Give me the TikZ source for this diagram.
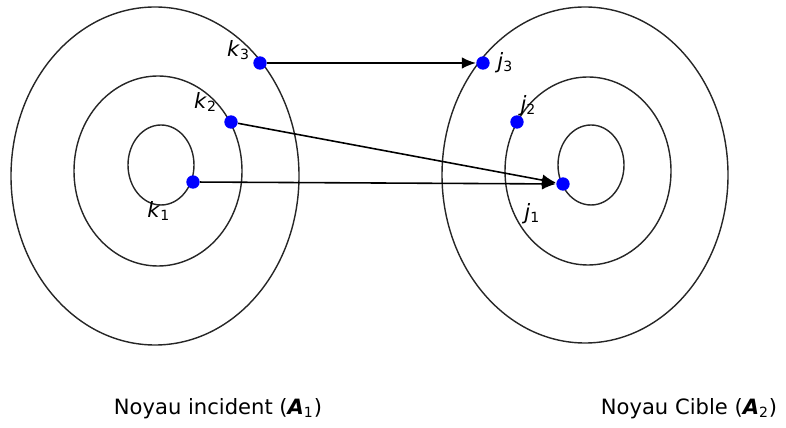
\documentclass[tikz,border=0pt]{standalone}
\usepackage{fontspec}
\setmainfont{DejaVu Sans}
\usepackage{xcolor}
\usepackage{tikz}
\usetikzlibrary{positioning, arrows.meta}

\tikzset{
  orbit/.style={draw=black!85, line width=0.8pt},
  dot/.style={circle, fill=blue, inner sep=0pt, minimum size=7.6pt},
  jump/.style={-{Latex[length=8pt, width=6.5pt]}, line width=0.9pt},
  lbl/.style={inner sep=1pt, font=\large}
}

\begin{document}
\begin{tikzpicture}[x=0.02cm, y=-0.02cm]
      \useasboundingbox (0,0) rectangle (786,428);

      % noyau incident
      \draw[orbit] (155,176) ellipse [x radius=144, y radius=169];
      \draw[orbit] (158,171) ellipse [x radius=84, y radius=95];
      \draw[orbit] (161,165) ellipse [x radius=33, y radius=40];

      % noyau cible
      \draw[orbit] (585,175) ellipse [x radius=143, y radius=168];
      \draw[orbit] (588,171) ellipse [x radius=83, y radius=94];
      \draw[orbit] (591,165) ellipse [x radius=33, y radius=40];

      \node[dot] (k3) at (260, 63) {};
      \node[dot] (k2) at (231,122) {};
      \node[dot] (k1) at (193,182) {};
      \node[dot] (j3) at (483, 63) {};
      \node[dot] (j2) at (517,122) {};
      \node[dot] (j1) at (563,184) {};

      \node[lbl, above left=-2.4pt and 1.7pt of k3] {\textit{k}\textsubscript{3}};
      \node[lbl, above left=2pt and 4pt of k2] {\textit{k}\textsubscript{2}};
      \node[lbl, below left=7pt and 9pt of k1] {\textit{k}\textsubscript{1}};
      \node[lbl, right=3pt of j3] {\textit{j}\textsubscript{3}};
      \node[lbl, above right=-0.7pt and -2pt of j2] {\textit{j}\textsubscript{2}};
      \node[lbl, below left=7pt and 9pt of j1] {\textit{j}\textsubscript{1}};

      \draw[jump] (k3) -- (j3);
      \draw[jump] (k2) -- (j1);
      \draw[jump] (k1) -- (j1);

      \node[lbl] (a1) at (218,409) {Noyau incident (\textbf{\textit{A}}\textsubscript{1})};
      \node[lbl] (a2) at (689,409) {Noyau Cible (\textbf{\textit{A}}\textsubscript{2})};
    \end{tikzpicture}
\end{document}
